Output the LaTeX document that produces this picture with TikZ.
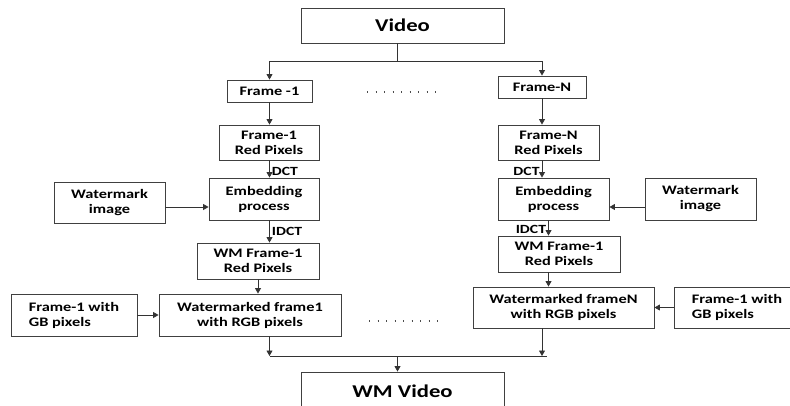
\documentclass[tikz,border=0pt]{standalone}
\usepackage{fontspec}
\setmainfont{Carlito}[FakeStretch=1.26]
\usetikzlibrary{arrows.meta}

\tikzset{
  blockbox/.style={draw=black!75, line width=0.9pt, align=center, inner sep=2pt,
    font=\bfseries\fontsize{13}{15}\selectfont},
  bigbox/.style={blockbox, minimum width=203pt, font=\bfseries\fontsize{18}{20}\selectfont},
  link/.style={draw=black!80, line width=0.8pt},
  arr/.style={link, -{Triangle[length=5.5pt,width=6pt]}},
  lbl/.style={inner sep=2pt, font=\bfseries\fontsize{12.5}{14}\selectfont},
  dotrow/.style={draw=black!70, line width=1.3pt, dash pattern=on 1.3pt off 7.2pt}
}

\begin{document}
\begin{tikzpicture}[x=1pt,y=-1pt]
  \useasboundingbox (0,0) rectangle (790,405);
  \clip (0,0) rectangle (790,405);
  % Input and output
  \node[bigbox, minimum height=35pt] (video) at (402.5,25.5) {Video};
  \node[bigbox, minimum height=38pt] (wmvideo) at (402.5,391) {WM Video};
  % Left branch
  \node[blockbox, minimum width=85pt, minimum height=22pt] (f1) at (269.5,91) {Frame -1};
  \node[blockbox, minimum width=100pt, minimum height=35pt] (red1) at (269,142.5) {Frame-1\\Red Pixels};
  \node[blockbox, minimum width=110pt, minimum height=42pt] (emb1) at (264,199) {Embedding\\process};
  \node[blockbox, minimum width=111pt, minimum height=41pt] (wm1) at (109.5,202.5) {Watermark\\image};
  \node[blockbox, minimum width=122pt, minimum height=36pt] (wmred1) at (258,261) {WM Frame-1\\Red Pixels};
  \node[blockbox, minimum width=182pt, minimum height=42pt] (out1) at (250,315) {Watermarked frame1\\with RGB pixels};
  \node[blockbox, align=left, minimum width=126pt, minimum height=42pt] (gb1) at (74,315) {Frame-1 with\\GB pixels};
  % Right branch
  \node[blockbox, minimum width=88pt, minimum height=22pt] (fN) at (542,87) {Frame-N};
  \node[blockbox, minimum width=101pt, minimum height=35pt] (redN) at (548.5,142.5) {Frame-N\\Red Pixels};
  \node[blockbox, minimum width=111pt, minimum height=42pt] (embN) at (553.5,199) {Embedding\\process};
  \node[blockbox, minimum width=111pt, minimum height=42pt] (wmN) at (700.5,199) {Watermark\\image};
  \node[blockbox, minimum width=122pt, minimum height=36pt] (wmredN) at (559,254) {WM Frame-1\\Red Pixels};
  \node[blockbox, minimum width=181pt, minimum height=41pt] (outN) at (563.5,307.5) {Watermarked frameN\\with RGB pixels};
  \node[blockbox, align=left, minimum width=126pt, minimum height=41pt] (gbN) at (737,307.5) {Frame-1 with\\GB pixels};
  % Dots between branches
  \draw[dotrow] (367,92) -- (436,92);
  \draw[dotrow] (369,321) -- (438,321);
  % Split of the video
  \draw[link] ([xshift=-5pt]video.south) -- ++(0,18) coordinate (split);
  \draw[arr] (split) -| (f1.north);
  \draw[arr] (split) -| (fN.north);
  % Left connectors
  \coordinate (wm1out) at ([yshift=-4.5pt]wm1.east);
  \draw[arr] (f1.south) -- (f1.south |- red1.north);
  \draw[arr] (f1.south |- red1.south) -- (f1.south |- emb1.north) node[lbl, pos=0.62, anchor=west] {DCT};
  \draw[arr] (wm1out) -- (wm1out -| emb1.west);
  \draw[arr] (f1.south |- emb1.south) -- (f1.south |- wmred1.north) node[lbl, pos=0.48, anchor=west] {IDCT};
  \draw[arr] (wmred1.south) -- (wmred1.south |- out1.north);
  \draw[arr] (gb1) -- (out1);
  % Right connectors
  \coordinate (wmNout) at ([yshift=-8pt]wmN.west);
  \draw[arr] (fN.south) -- (fN.south |- redN.north);
  \draw[arr] (fN.south |- redN.south) -- (fN.south |- embN.north) node[lbl, pos=0.62, anchor=east] {DCT};
  \draw[arr] (wmNout) -- (wmNout -| embN.east);
  \draw[arr] (redN.south |- embN.south) -- (redN.south |- wmredN.north) node[lbl, pos=0.6, anchor=east] {IDCT};
  \draw[arr] (redN.south |- wmredN.south) -- (redN.south |- outN.north);
  \draw[arr] (gbN) -- (outN);
  % Merge into the output
  \coordinate (join) at (397.5,356);
  \draw[arr] (f1.south |- out1.south) -- (f1.south |- join);
  \draw[arr] (fN.south |- outN.south) -- (fN.south |- join);
  \draw[link] (f1.south |- join) -- ([xshift=5pt]fN.south |- join);
  \draw[arr] (join) -- (join |- wmvideo.north);
\end{tikzpicture}
\end{document}
